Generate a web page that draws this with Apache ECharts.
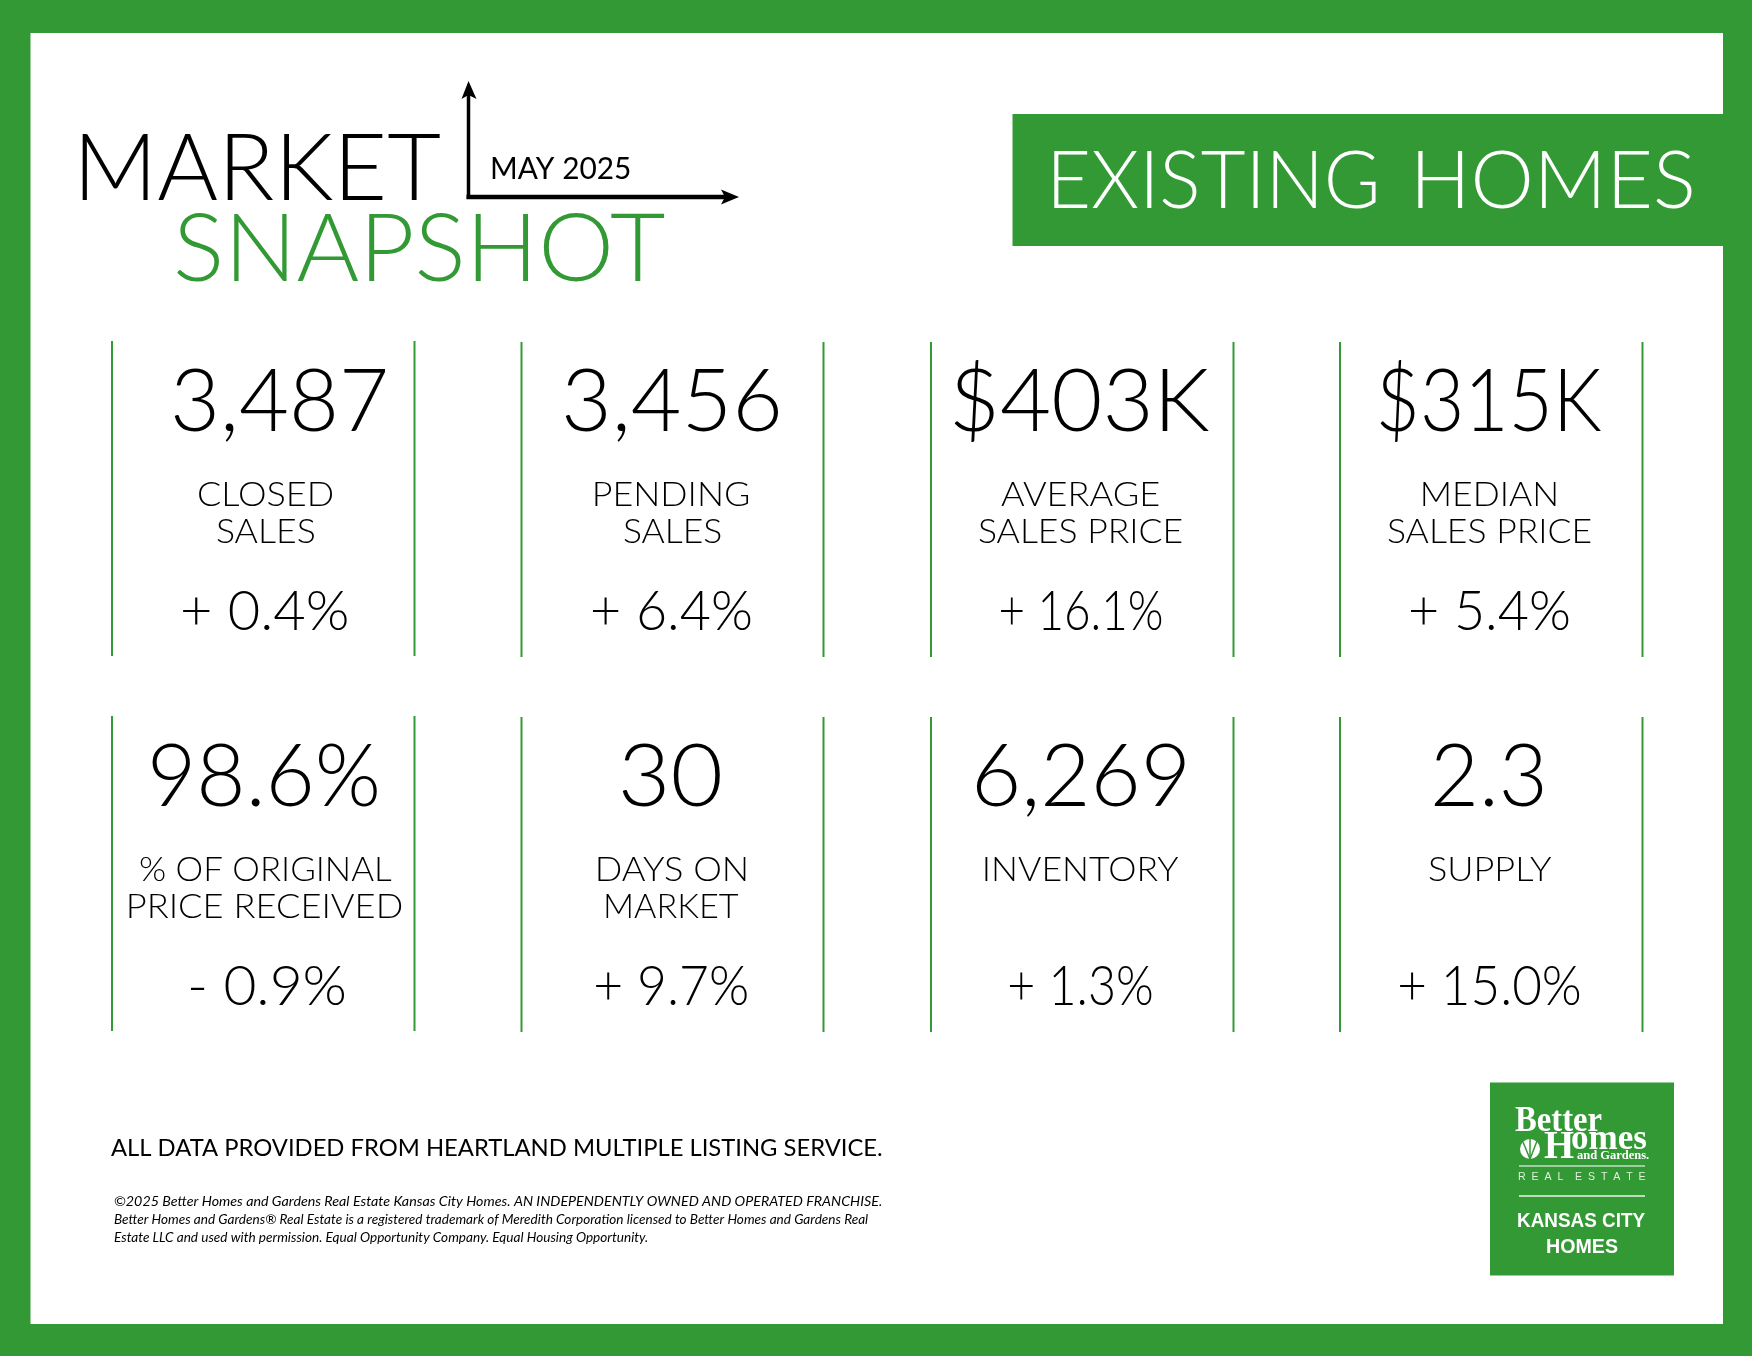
<!DOCTYPE html>
<html>
<head>
<meta charset="utf-8">
<title>Market Snapshot</title>
<script src="https://cdn.jsdelivr.net/npm/echarts@6/dist/echarts.min.js"></script>
<style>
html, body { margin: 0; padding: 0; background: #fff; }
#main { width: 1752px; height: 1356px; }
</style>
</head>
<body>
<div id="main"></div>
<script>
// data, left to right, top row first
var kpiValues = ['3,487', '3,456', '$403K', '$315K', '98.6%', '30', '6,269', '2.3'];
var kpiLabels = [
    ['CLOSED', 'SALES'],
    ['PENDING', 'SALES'],
    ['AVERAGE', 'SALES PRICE'],
    ['MEDIAN', 'SALES PRICE'],
    ['% OF ORIGINAL', 'PRICE RECEIVED'],
    ['DAYS ON', 'MARKET'],
    ['INVENTORY'],
    ['SUPPLY']
];
var kpiChanges = ['+ 0.4%', '+ 6.4%', '+ 16.1%', '+ 5.4%', '- 0.9%', '+ 9.7%', '+ 1.3%', '+ 15.0%'];
var finePrint = [
    '©2025 Better Homes and Gardens Real Estate Kansas City Homes. AN INDEPENDENTLY OWNED AND OPERATED FRANCHISE.',
    'Better Homes and Gardens® Real Estate is a registered trademark of Meredith Corporation licensed to Better Homes and Gardens Real',
    'Estate LLC and used with permission. Equal Opportunity Company. Equal Housing Opportunity.'
];

// layout: left and right ink edges of each text, in page pixels
var valueEdges = [[174, 385], [565, 779], [954, 1209], [1380, 1601], [152, 377], [622, 720], [976, 1185], [1434, 1543]];
var labelEdges = [
    [[198, 333], [217, 314]],
    [[595, 749], [624, 720.5]],
    [[1001, 1159], [979, 1182]],
    [[1423, 1556], [1388, 1591]],
    [[140, 392], [129, 402]],
    [[598, 746], [606, 738.5]],
    [[985, 1179]],
    [[1429, 1552]]
];
var changeEdges = [[183, 347.5], [593, 751], [1001, 1162], [1411, 1569], [190, 345], [596, 747.5], [1010, 1152], [1400, 1580]];
var ruleX = [112, 414.5, 521.5, 823.5, 931, 1233.5, 1340, 1642.5];

var GREEN = '#339935';
var LIGHT = 'Lato';
var measure = document.createElement('canvas').getContext('2d');
var elements = [];

// text whose ink runs from left to right, sitting on the baseline
function addText(text, left, right, baseline, font, color, opacity) {
    measure.font = font;
    measure.textBaseline = 'middle';
    measure.textAlign = 'left';
    var m = measure.measureText(text);
    var inkLeft = -m.actualBoundingBoxLeft;
    var inkRight = m.actualBoundingBoxRight;
    var scale = (right - left) / (inkRight - inkLeft);
    var drop = measure.measureText('H').actualBoundingBoxDescent;
    elements.push({
        type: 'text',
        x: left - inkLeft * scale,
        y: baseline - drop,
        scaleX: scale,
        silent: true,
        style: {
            text: text,
            font: font,
            fill: color || '#000',
            opacity: opacity === undefined ? 1 : opacity,
            align: 'left',
            verticalAlign: 'middle'
        }
    });
}

function addRect(x, y, w, h, color) {
    elements.push({ type: 'rect', silent: true, shape: { x: x, y: y, width: w, height: h }, style: { fill: color } });
}

function addLine(x1, y1, x2, y2, color, width, opacity) {
    elements.push({
        type: 'line',
        silent: true,
        shape: { x1: x1, y1: y1, x2: x2, y2: y2 },
        style: { stroke: color, lineWidth: width, opacity: opacity === undefined ? 1 : opacity }
    });
}

function addPolygon(points, color) {
    elements.push({ type: 'polygon', silent: true, shape: { points: points }, style: { fill: color } });
}

// page frame
addRect(0, 0, 1752, 1356, GREEN);
addRect(30.5, 33, 1692.5, 1291, '#fff');

// heading
addText('MARKET', 82, 440, 200, '300 93px ' + LIGHT);
addText('SNAPSHOT', 177, 665, 281, '300 94px ' + LIGHT, GREEN);
addText('MAY 2025', 492, 630, 179, '400 30px ' + LIGHT);
addLine(468.5, 92, 468.5, 199, '#000', 3.5);
addLine(466.5, 197, 728, 197, '#000', 4.5);
addPolygon([[468.5, 81], [476.5, 99], [468.5, 95], [461.5, 99]], '#000');
addPolygon([[739, 197], [721, 189.5], [725, 197], [721, 204.5]], '#000');

addRect(1012.5, 114, 711, 132, GREEN);
addText('EXISTING', 1054, 1376, 208, '300 80px ' + LIGHT, '#fff');
addText('HOMES', 1418, 1692, 208, '300 80px ' + LIGHT, '#fff');

// the eight panels
for (var i = 0; i < kpiValues.length; i++) {
    var rowY = i < 4 ? 0 : 375;
    var col = i % 4;
    var nudge = col === 0 ? 0 : 1;
    addLine(ruleX[col * 2], 341 + rowY + nudge, ruleX[col * 2], 656 + rowY + nudge, GREEN, 2);
    addLine(ruleX[col * 2 + 1], 341 + rowY + nudge, ruleX[col * 2 + 1], 656 + rowY + nudge, GREEN, 2);
    addText(kpiValues[i], valueEdges[i][0], valueEdges[i][1], 431 + rowY, '300 86px ' + LIGHT);
    for (var j = 0; j < kpiLabels[i].length; j++) {
        addText(kpiLabels[i][j], labelEdges[i][j][0], labelEdges[i][j][1], 506 + rowY + j * 37, '300 33px ' + LIGHT);
    }
    addText(kpiChanges[i], changeEdges[i][0], changeEdges[i][1], 630 + rowY, '300 55px ' + LIGHT);
}

// footer notes
addText('ALL DATA PROVIDED FROM HEARTLAND MULTIPLE LISTING SERVICE.', 111, 882, 1156, '400 24px ' + LIGHT);
addText(finePrint[0], 114, 882, 1206, 'italic 400 14px ' + LIGHT);
addText(finePrint[1], 114, 868, 1224, 'italic 400 14px ' + LIGHT);
addText(finePrint[2], 114, 648, 1242, 'italic 400 14px ' + LIGHT);

// brand block
var SERIF = 'bold 36px "Liberation Serif"';
addRect(1490, 1082.5, 184, 193, GREEN);
addText('Better', 1515, 1602, 1131, SERIF, '#fff');
addText('H', 1544, 1574, 1158, 'bold 40px "Liberation Serif"', '#fff');
addText('omes', 1572, 1647, 1149, SERIF, '#fff');
addText('and Gardens.', 1577, 1649, 1158.5, 'bold 13px "Liberation Serif"', '#fff');
elements.push({ type: 'circle', silent: true, shape: { cx: 1530, cy: 1149, r: 10 }, style: { fill: '#fff' } });
addLine(1530, 1159, 1523, 1142, GREEN, 1.5);
addLine(1530, 1159, 1530, 1139, GREEN, 1.5);
addLine(1530, 1159, 1537, 1141, GREEN, 1.5);
addLine(1519, 1166, 1645, 1166, '#fff', 1.5, 0.7);
addText('R  E  A  L    E  S  T  A  T  E', 1518, 1646, 1180, '400 10px "Liberation Sans"', '#fff', 0.85);
addLine(1519, 1196, 1645, 1196, '#fff', 1.5, 0.9);
addText('KANSAS CITY', 1518, 1645, 1227, 'bold 21px "Liberation Sans"', '#fff');
addText('HOMES', 1547, 1618, 1253, 'bold 21px "Liberation Sans"', '#fff');

var myChart = echarts.init(document.getElementById('main'));
myChart.setOption({
    backgroundColor: '#fff',
    animation: false,
    graphic: { elements: elements }
});
</script>
</body>
</html>
